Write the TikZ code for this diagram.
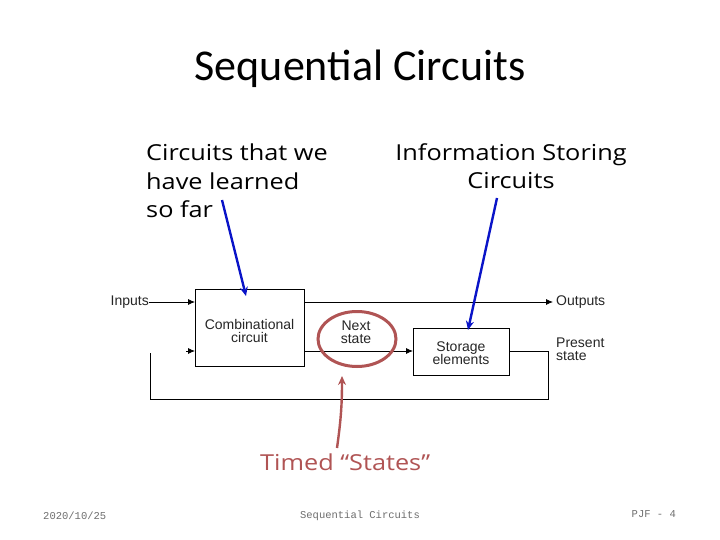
\documentclass[tikz,border=0pt]{standalone}
\usepackage{fontspec}
\setmainfont{Liberation Sans}
\newfontfamily\titlefont{Carlito}
\newfontfamily\handfont[FakeStretch=1.15]{Open Sans}
\newfontfamily\footfont{Liberation Mono}
\usetikzlibrary{arrows.meta}
\definecolor{ovalred}{RGB}{176,84,84}
\definecolor{arrowblue}{RGB}{10,20,200}
\definecolor{footgrey}{RGB}{110,110,110}
\begin{document}
\begin{tikzpicture}[x=1pt,y=-1pt,
  blockbox/.style={draw,line width=0.9pt,inner sep=0pt},
  lbl/.style={font=\fontsize{14}{14}\selectfont,align=left,inner sep=0pt,anchor=west,text=black!85},
  clbl/.style={font=\fontsize{14}{14}\selectfont,align=center,inner sep=0pt,text=black!85},
  wire/.style={line width=0.8pt},
  wirearrow/.style={line width=0.8pt,-{Latex[length=7pt,width=6pt]}},
  hand/.style={font=\handfont\fontsize{22}{28.5}\selectfont,inner sep=0pt},
  pointer/.style={line width=2.4pt,-{Stealth[length=9pt,width=8pt]}},
  foot/.style={font=\footfont\fontsize{10.5}{10.5}\selectfont,text=footgrey,inner sep=0pt}]
\useasboundingbox (0,0) rectangle (720,540);
\fill[white] (0,0) rectangle (720,540);

% title
\node[font=\titlefont\fontsize{44}{44}\selectfont,inner sep=0pt] (title) at (360,69) {Sequential Circuits};

% blocks
\draw[blockbox] (195,289) rectangle (304,366);
\node[clbl] (comb) at (249.5,331) {Combinational\\[-1pt]circuit};
\draw[blockbox] (413,328) rectangle (509,375);
\node[clbl] (stor) at (461,353) {Storage\\[-1pt]elements};
\coordinate (combin1) at (195,302);
\coordinate (combin2) at (195,351);
\coordinate (combout1) at (304,302);
\coordinate (combout2) at (304,351);
\coordinate (storin) at (413,351);
\coordinate (storout) at (509,351.5);

% labels
\node[lbl,anchor=east] (inputs) at (149,302) {Inputs};
\node[lbl] (outputs) at (556,302) {Outputs};
\node[lbl] (pres) at (556,349) {Present\\[-1pt]state};
\node[clbl] (next) at (356,332) {Next\\[-1pt]state};

% wires
\draw[wirearrow] (inputs.east |- combin1) -- (combin1);
\coordinate (outend) at (553,302);
\draw[wirearrow] (combout1) -- (outend);
\draw[wirearrow] (combout2) -- (storin);
\coordinate (fbA) at (548,351.5);
\coordinate (fbB) at (548,399);
\coordinate (fbC) at (150.5,399);
\coordinate (fbD) at (150.5,353);
\draw[wire] (storout) -- (fbA) -- (fbB) -- (fbC) -- (fbD);
\coordinate (in2start) at (186,351);
\draw[wirearrow] (in2start) -- (combin2);

% oval
\draw[ovalred,line width=3pt] (357,339) ellipse [x radius=39, y radius=27.5];

% hand-written annotations
\node[hand,anchor=north west,align=left] (learned) at (146,144) {Circuits that we\\have learned\\so far};
\node[hand,anchor=north,align=center] (storing) at (511,143) {Information Storing\\Circuits};
\node[hand,text=ovalred,anchor=west] (timed) at (260,462) {Timed “States”};

\coordinate (p1s) at (222,200);
\coordinate (p1e) at (246,296);
\draw[pointer,arrowblue] (p1s) -- (p1e);
\coordinate (p2s) at (497,198);
\coordinate (p2e) at (468,330);
\draw[pointer,arrowblue] (p2s) -- (p2e);
\coordinate (p3s) at (337,448);
\coordinate (p3e) at (342,376);
\draw[pointer,ovalred] (p3s) to[bend right=4] (p3e);

% footer
\node[foot,anchor=west] (date) at (43,516) {2020/10/25};
\node[foot] (ftitle) at (360,516) {Sequential Circuits};
\node[foot,anchor=east] (page) at (676,514) {PJF - 4};
\end{tikzpicture}
\end{document}
